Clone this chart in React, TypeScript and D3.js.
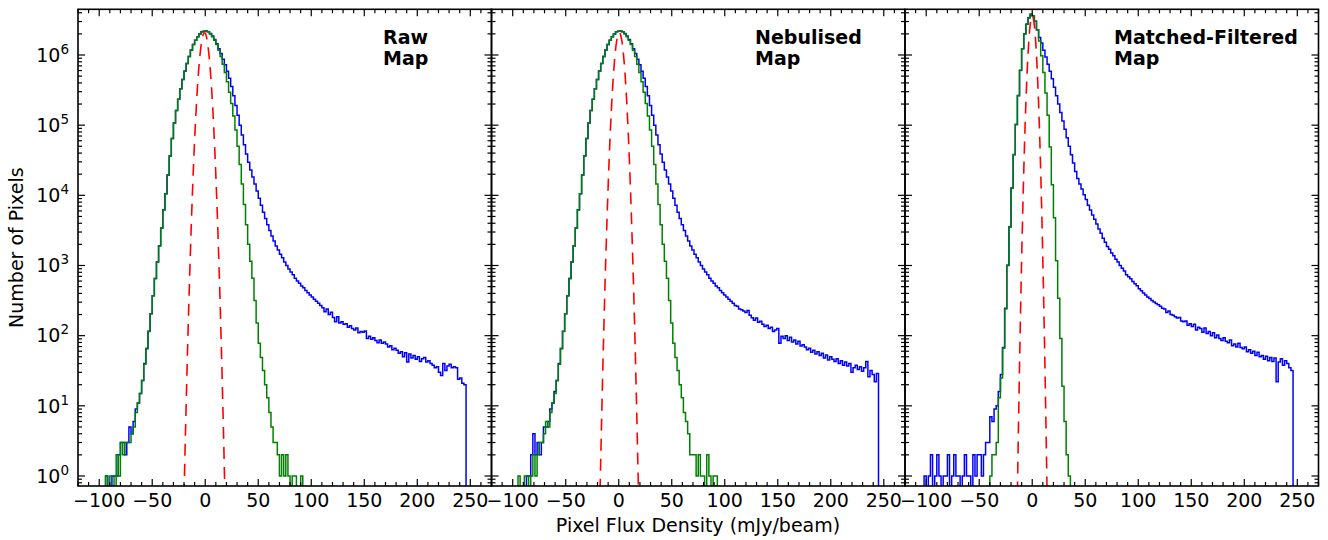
import React from "react";
import * as d3 from "d3";

// ---------- data (histograms: counts per 2 mJy/beam bin, first bin edge given) ----------
const BIN = 2;

const rawBlueStart = -96;
const rawBlue = [
  0, 1, 0, 0, 1, 1, 1, 2, 3, 3, 2, 3, 5, 4, 6, 9, 11, 15, 23, 40, 65, 116, 206, 372, 652, 1125, 1905, 3410,
  6210, 10520, 19560, 36400, 64700, 107100, 162100, 234100, 331200, 447200, 589200, 759300, 955300, 1175500,
  1413500, 1622500, 1820500, 1995500, 2138500, 2188500,
  2190000, 2145000, 2020000, 1860000, 1660000, 1450000, 1230000, 1050000, 871000, 724000, 589000, 468000,
  355000, 263000, 191000, 138000, 100000, 72400, 52500, 38900, 29500, 22900, 18200, 14500, 11500, 9100, 7240,
  5750, 4680, 3800, 3160, 2630, 2240, 1900, 1660, 1450, 1290, 1120, 1000, 890, 810, 740, 660, 600, 560, 510,
  480, 440, 410, 380, 355, 330, 310, 290, 270, 250, 220, 240, 200, 215, 182, 158, 186, 151, 158, 145, 148,
  132, 138, 126, 120, 129, 110, 115, 112, 117, 91, 98, 89, 93, 85, 79, 87, 78, 81, 76, 69, 72, 63, 66, 62, 56,
  59, 50, 57, 42, 55, 48, 52, 46, 50, 43, 47, 49, 42, 44, 40, 38, 35, 36, 30, 27, 40, 32, 37, 39, 35, 36, 35,
  24, 25, 21, 20, 0,
];
const rawGreenStart = -96;
const rawGreen = [
  0, 1, 0, 1, 1, 0, 2, 1, 3, 2, 3, 3, 3, 4, 5, 8, 11, 15, 23, 39, 66, 115, 205,
  370, 650, 1120, 1900, 3400, 6200, 10500, 19500, 36300, 64600, 107000, 162000, 234000, 331000, 447000,
  589000, 759000, 955000, 1175000, 1413000, 1622000, 1820000, 1995000, 2138000, 2188000,
  2190000, 2140000, 2000000, 1820000, 1620000, 1410000, 1170000, 955000, 741000, 562000, 417000, 295000,
  204000, 135000, 85100, 50100, 27500, 14500, 7410, 3800, 2000, 1150, 660, 316, 151,
  78, 49, 32, 20, 13, 8, 5, 3, 3, 2, 1, 2, 1, 2, 1, 0, 1, 1, 0, 0, 1, 0,
];
const rawRedStart = -20;
const rawRed = [
  0.52, 2.4, 10, 41, 148, 490, 1510, 4370, 11500, 27500, 61700, 126000, 237000, 413000, 664000, 982000,
  1340000, 1680000, 1950000, 2080000, 2050000, 1860000, 1550000, 1190000, 847000, 555000, 334000, 186000,
  95100, 44900, 19500, 7820, 2880, 982, 308, 89, 24, 5.8, 1.3, 0.28,
];

const nebBlueStart = -95;
const nebBlue = [
  0, 0, 0, 0, 1, 1, 2, 4, 2, 3, 2, 3, 5, 5, 6, 9, 11, 16, 23, 40, 65, 116, 206, 372, 652, 1125, 1905, 3410,
  6210, 10520, 19560, 36400, 64700, 107100, 162100, 234100, 331200, 447200, 589200, 759300, 955300, 1175500,
  1413500, 1622500, 1820500, 1995500, 2138500, 2188500,
  2190000, 2145000, 2020000, 1860000, 1660000, 1450000, 1230000, 1050000, 871000, 724000, 589000, 468000,
  355000, 263000, 191000, 138000, 100000, 72400, 52500, 38900, 29500, 22900, 18200, 14500, 11500, 9100, 7240,
  5750, 4680, 3800, 3160, 2630, 2240, 1900, 1660, 1450, 1290, 1120, 1000, 890, 810, 740, 660, 600, 560, 510,
  480, 440, 410, 380, 355, 330, 310, 290,
  270, 262, 240, 234, 225, 214, 228, 195, 180, 166, 178, 155, 160, 145, 135, 141, 126, 132, 115, 120, 126, 78,
  98, 91, 100, 85, 95, 81, 87, 76, 83, 71, 74, 69, 63, 66, 58, 62, 55, 59, 52, 56, 48, 53, 45, 50, 46, 43, 47,
  40, 44, 38, 42, 37, 40, 30, 35, 38, 33, 36, 31, 35, 43, 26, 32, 28, 22, 29, 0,
];
const nebGreenStart = -95;
const nebGreen = [
  1, 0, 0, 1, 1, 0, 1, 2, 1, 2, 3, 3, 4, 6, 5, 8, 11, 15, 23, 39, 66, 115, 205,
  370, 650, 1120, 1900, 3400, 6200, 10500, 19500, 36300, 64600, 107000, 162000, 234000, 331000, 447000,
  589000, 759000, 955000, 1175000, 1413000, 1622000, 1820000, 1995000, 2138000, 2188000,
  2190000, 2140000, 2000000, 1820000, 1620000, 1410000, 1170000, 955000, 741000, 562000, 417000, 295000,
  204000, 135000, 85100, 50100, 27500, 14500, 7410, 3800, 2000, 1150, 660, 316, 151,
  78, 49, 32, 20, 13, 8, 6, 4, 2, 2, 2, 1, 2, 1, 1, 0, 2, 1, 0, 1, 1, 0,
];
const nebRedStart = -18;
const nebRed = [
  0.32, 1.6, 7.8, 34, 135, 490, 1600, 4820, 13200, 33100, 75700, 158000, 301000, 521000, 824000, 1190000,
  1570000, 1880000, 2070000, 2070000, 1880000, 1570000, 1190000, 824000, 521000, 301000, 158000, 75700, 33100,
  13200, 4820, 1600, 490, 135, 34, 7.8, 1.6, 0.32,
];

const mfBlueStart = -102;
const mfBlue = [
  1, 0, 1, 2, 0, 1, 2, 1, 0, 1, 1, 2, 0, 1, 2, 1, 1, 0, 1, 2, 1, 1, 0, 2, 1, 2, 2, 1, 2, 3, 3, 7, 6, 9, 10, 16,
  28, 68, 245, 1010, 3560, 12700, 38200, 102500, 264000, 605000, 1232000, 2002000, 2752000, 3392000, 3802000,
  3630000, 3020000, 2290000, 1780000, 1480000, 1170000, 933000, 741000, 589000, 457000, 347000, 263000, 200000,
  151000, 115000, 87100, 66100, 50100, 38000, 28800, 21900, 17400, 14500, 12300, 10200, 8710, 7240, 6170, 5250,
  4570, 3890, 3310, 2880, 2450, 2140, 1860, 1700, 1510, 1380, 1230, 1120, 1000, 912, 832, 741, 692, 646, 589,
  550, 513, 468, 437, 407, 380, 355, 339, 316, 302, 288, 275, 263, 245, 240, 214, 224, 200, 195, 186, 178, 182,
  162, 158, 162, 141, 148, 135, 145, 120, 132, 126, 112, 129, 107, 115, 100, 110, 93, 102, 91, 85, 93, 83, 79,
  87, 72, 76, 69, 78, 68, 65, 69, 59, 63, 56, 60, 52, 58, 50, 52, 46, 51, 44, 49, 43, 48, 22, 42, 47, 38, 44,
  40, 35, 32, 0,
];
const mfGreenStart = -42;
const mfGreen = [
  0, 1, 2, 2, 3, 13, 25, 66, 240, 1000, 3550, 12600, 38000, 102000, 263000, 603000, 1230000, 2000000, 2750000,
  3390000, 3800000, 3630000, 3020000, 2290000, 1580000, 977000, 562000, 288000, 138000, 49000, 14100, 4790, 1170,
  340, 91, 19, 6, 2, 1, 0,
];
const mfRedStart = -14;
const mfRed = [
  0.56, 4.9, 36, 227, 1220, 5570, 21700, 72100, 204000, 491000, 1010000, 1770000, 2640000, 3350000, 3630000,
  3350000, 2640000, 1770000, 1010000, 491000, 204000, 72100, 21700, 5570, 1220, 227, 36, 4.9, 0.56,
];

const panelTitles = [["Raw", "Map"], ["Nebulised", "Map"], ["Matched-Filtered", "Map"]];
const xMajorTicks = [-100, -50, 0, 50, 100, 150, 200, 250];
const yMajorExps = [0, 1, 2, 3, 4, 5, 6];
const xLabel = "Pixel Flux Density (mJy/beam)";
const yLabel = "Number of Pixels";

const panels = [
  { title: panelTitles[0], blueStart: rawBlueStart, blue: rawBlue, greenStart: rawGreenStart, green: rawGreen, redStart: rawRedStart, red: rawRed },
  { title: panelTitles[1], blueStart: nebBlueStart, blue: nebBlue, greenStart: nebGreenStart, green: nebGreen, redStart: nebRedStart, red: nebRed },
  { title: panelTitles[2], blueStart: mfBlueStart, blue: mfBlue, greenStart: mfGreenStart, green: mfGreen, redStart: mfRedStart, red: mfRed },
];

// ---------- layout ----------
const WIDTH = 1328;
const HEIGHT = 540;
const TOP = 9.3;
const BOTTOM = 486;
const LEFTS = [78, 491.5, 905];
const PW = 413.5;
const TITLE_X = [383, 755, 1114];
const FONT = "DejaVu Sans";
const X_DOMAIN: [number, number] = [-120, 270];
const Y_DOMAIN: [number, number] = [0.72, 4.48e6];

const yScale = d3.scaleLog().domain(Y_DOMAIN).range([BOTTOM, TOP]);

function stepPoints(start: number, counts: number[]): [number, number][] {
  const floor = 1e-3;
  const pts: [number, number][] = [[start, floor]];
  counts.forEach((c, i) => {
    const v = c > 0 ? c : floor;
    pts.push([start + i * BIN, v]);
    pts.push([start + (i + 1) * BIN, v]);
  });
  pts.push([start + counts.length * BIN, floor]);
  return pts;
}

function curvePoints(start: number, vals: number[]): [number, number][] {
  return vals.map((v, i) => [start + i, v] as [number, number]);
}

const yMinor: number[] = [];
for (let e = -1; e <= 6; e++) {
  for (let m = 2; m <= 9; m++) {
    const v = m * Math.pow(10, e);
    if (v >= Y_DOMAIN[0] && v <= Y_DOMAIN[1]) yMinor.push(v);
  }
}
const xMinor: number[] = [];
for (let v = -120; v <= 270; v += 10) if (v % 50 !== 0) xMinor.push(v);

const fmt = (v: number) => (v < 0 ? "\u2212" + Math.abs(v) : String(v));

function Panel({ idx }: { idx: number }) {
  const p = panels[idx];
  const left = LEFTS[idx];
  const right = left + PW;
  const x = d3.scaleLinear().domain(X_DOMAIN).range([left, right]);
  const line = d3
    .line<[number, number]>()
    .x((d) => x(d[0]))
    .y((d) => yScale(d[1]));
  const smooth = d3
    .line<[number, number]>()
    .x((d) => x(d[0]))
    .y((d) => yScale(d[1]))
    .curve(d3.curveMonotoneX);
  const clipId = `clip-${idx}`;
  const MAJ = 7;
  const MIN = 4;
  return (
    <g>
      <defs>
        <clipPath id={clipId}>
          <rect x={left} y={TOP} width={PW} height={BOTTOM - TOP} />
        </clipPath>
      </defs>
      <g clipPath={`url(#${clipId})`}>
        <path d={line(stepPoints(p.blueStart, p.blue)) || ""} fill="none" stroke="#0000ff" strokeWidth={1.5} strokeLinejoin="miter" />
        <path d={line(stepPoints(p.greenStart, p.green)) || ""} fill="none" stroke="#008000" strokeWidth={1.5} strokeLinejoin="miter" />
        <path d={smooth(curvePoints(p.redStart, p.red)) || ""} fill="none" stroke="#ff0000" strokeWidth={1.6} strokeDasharray="12,8" />
      </g>
      {/* ticks */}
      <g stroke="#000" strokeWidth={1.2}>
        {xMajorTicks.map((t) => (
          <g key={`xm${t}`}>
            <line x1={x(t)} x2={x(t)} y1={BOTTOM} y2={BOTTOM - MAJ} />
            <line x1={x(t)} x2={x(t)} y1={TOP} y2={TOP + MAJ} />
          </g>
        ))}
        {xMinor.map((t) => (
          <g key={`xn${t}`}>
            <line x1={x(t)} x2={x(t)} y1={BOTTOM} y2={BOTTOM - MIN} />
            <line x1={x(t)} x2={x(t)} y1={TOP} y2={TOP + MIN} />
          </g>
        ))}
        {yMajorExps.map((e) => {
          const yy = yScale(Math.pow(10, e));
          return (
            <g key={`ym${e}`}>
              <line x1={left} x2={left + MAJ} y1={yy} y2={yy} />
              <line x1={right} x2={right - MAJ} y1={yy} y2={yy} />
            </g>
          );
        })}
        {yMinor.map((v) => {
          const yy = yScale(v);
          return (
            <g key={`yn${v}`}>
              <line x1={left} x2={left + MIN} y1={yy} y2={yy} />
              <line x1={right} x2={right - MIN} y1={yy} y2={yy} />
            </g>
          );
        })}
      </g>
      <rect x={left} y={TOP} width={PW} height={BOTTOM - TOP} fill="none" stroke="#000" strokeWidth={1.6} />
      {/* x tick labels */}
      {xMajorTicks.map((t) => (
        <text key={`xl${t}`} x={x(t)} y={507} textAnchor="middle" fontSize={19} fontFamily={FONT}>
          {fmt(t)}
        </text>
      ))}
      {/* y tick labels only on first panel */}
      {idx === 0 &&
        yMajorExps.map((e) => (
          <text key={`yl${e}`} x={69} y={yScale(Math.pow(10, e)) + 6.8} textAnchor="end" fontSize={19} fontFamily={FONT}>
            <tspan>10</tspan>
            <tspan dy={-8} fontSize={13.5}>
              {e}
            </tspan>
          </text>
        ))}
      {/* panel title */}
      <text x={TITLE_X[idx]} y={44} fontSize={19} fontWeight="bold" fontFamily={FONT}>
        {p.title[0]}
      </text>
      <text x={TITLE_X[idx]} y={65} fontSize={19} fontWeight="bold" fontFamily={FONT}>
        {p.title[1]}
      </text>
    </g>
  );
}

export default function App() {
  return (
    <div style={{ position: "absolute", left: 0, top: 0, width: WIDTH, height: HEIGHT, background: "#fff" }}>
      <svg width={WIDTH} height={HEIGHT} style={{ display: "block" }}>
        <rect x={0} y={0} width={WIDTH} height={HEIGHT} fill="#fff" />
        {panels.map((_, i) => (
          <Panel key={i} idx={i} />
        ))}
        <text x={698} y={532} textAnchor="middle" fontSize={19} fontFamily={FONT}>
          {xLabel}
        </text>
        <text transform={`translate(23, ${(TOP + BOTTOM) / 2}) rotate(-90)`} textAnchor="middle" fontSize={19} fontFamily={FONT}>
          {yLabel}
        </text>
      </svg>
    </div>
  );
}
